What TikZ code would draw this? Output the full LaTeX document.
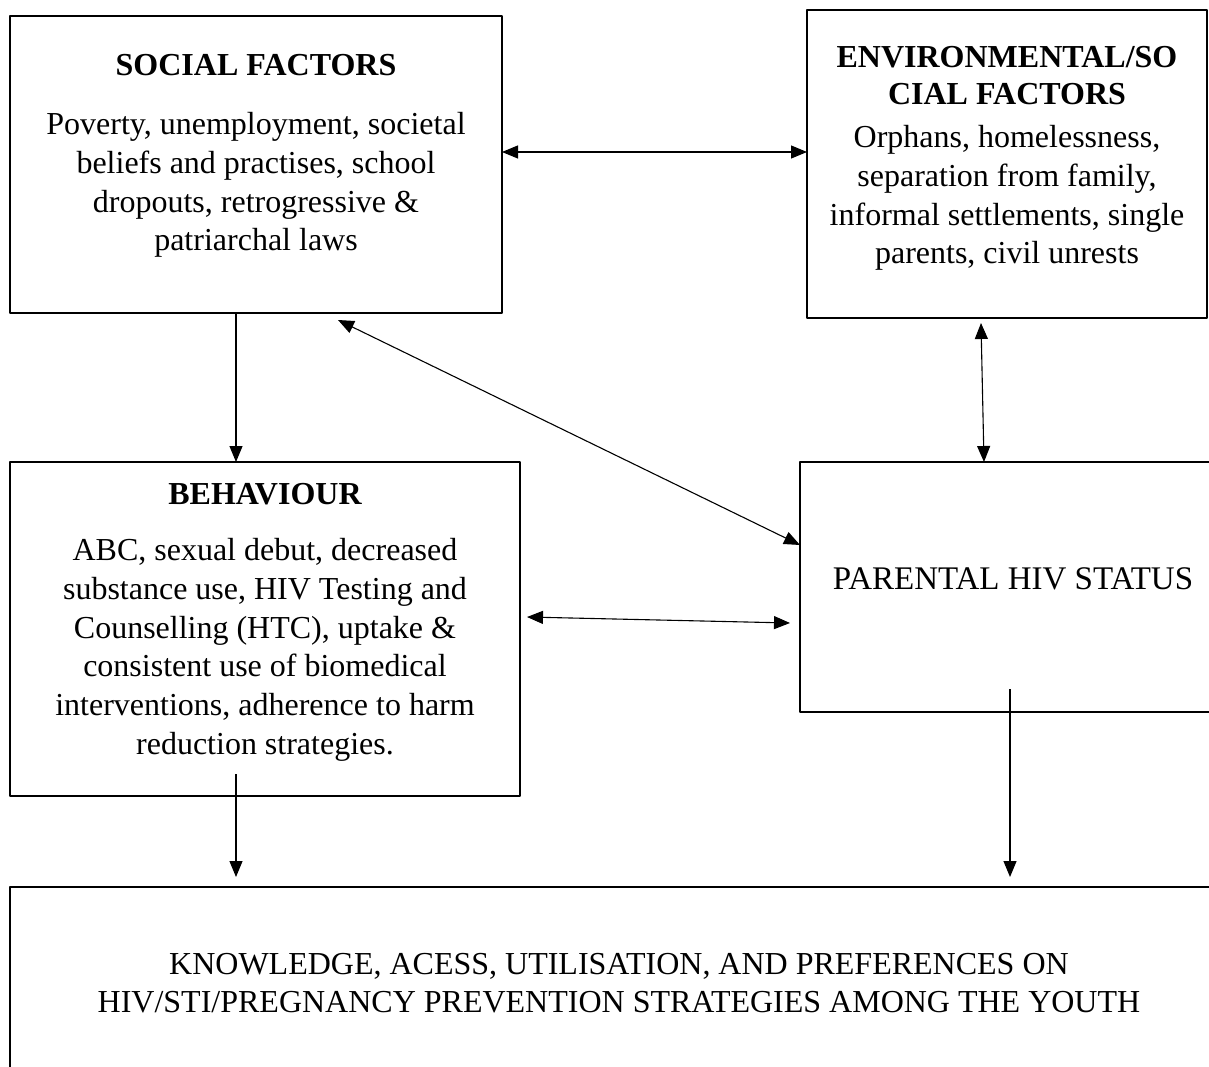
\documentclass[tikz,border=0pt]{standalone}
\usepackage{fontspec}
\setmainfont{Liberation Serif}
\usetikzlibrary{arrows.meta,positioning}
\tikzset{
  frame/.style={draw, line width=1.5pt, inner sep=0pt, outer sep=0pt, anchor=north west},
  txt/.style={inner sep=0pt, outer sep=0pt, align=center, anchor=north, font=\fontsize{32}{38.7}\selectfont},
  ttl/.style={txt, font=\fontsize{32}{37}\selectfont\bfseries}
}
\begin{document}
\begin{tikzpicture}[x=1pt, y=-1pt, line join=round, line width=1.1pt, >={Triangle[length=16pt,width=13pt]}]
	\useasboundingbox (0,0) rectangle (1209,1067);
	\clip (0,0) rectangle (1209,1067);
	% boxes
	\node[frame, minimum width=492pt, minimum height=297pt] (social) at (10,16) {};
	\node[frame, minimum width=400pt, minimum height=308pt] (env) at (807,10) {};
	\node[frame, minimum width=510pt, minimum height=334pt] (behav) at (10,462) {};
	\node[frame, minimum width=450pt, minimum height=250pt] (parental) at (800,462) {};
	\node[frame, minimum width=1240pt, minimum height=220pt] (outcome) at (10,887) {};
	% texts
	\node[ttl] (socialttl) at ([yshift=-38pt]social.north) {SOCIAL FACTORS};
	\node[txt, below=37pt of socialttl] (socialtxt) {Poverty, unemployment, societal\\beliefs and practises, school\\dropouts, retrogressive \&\\patriarchal laws};
	\node[ttl] (envttl) at ([yshift=-36pt]env.north) {ENVIRONMENTAL/SO\\CIAL FACTORS};
	\node[txt, below=21pt of envttl] (envtxt) {Orphans, homelessness,\\separation from family,\\informal settlements, single\\parents, civil unrests};
	\node[ttl] (behavttl) at ([yshift=-21pt]behav.north) {BEHAVIOUR};
	\node[txt, below=34pt of behavttl] (behavtxt) {ABC, sexual debut, decreased\\substance use, HIV Testing and\\Counselling (HTC), uptake \&\\consistent use of biomedical\\interventions, adherence to harm\\reduction strategies.};
	\node[txt, font=\fontsize{33}{38.7}\selectfont] (parentaltxt) at ([xshift=213pt,yshift=-106pt]parental.north west) {PARENTAL HIV STATUS};
	\node[txt] (outcometxt) at ([xshift=609pt,yshift=-66pt]outcome.north west) {KNOWLEDGE, ACESS, UTILISATION, AND PREFERENCES ON\\HIV/STI/PREGNANCY PREVENTION STRATEGIES AMONG THE YOUTH};
	% free ends
	\coordinate (diagend) at (338,320);
	\coordinate (envlow) at (981,323);
	\coordinate (behavright) at (527,617);
	\coordinate (parentalleft) at (790,623);
	\coordinate (behavlow) at (236,774);
	\coordinate (behavtip) at (236,877);
	\coordinate (parentallow) at (1010,689);
	\coordinate (parentaltip) at (1010,877);
	% connectors
	\draw[<->] (social.east |- 0,152) -- (env.west |- 0,152);
	\draw[->] (social.south -| 236,0) -- (behav.north -| 236,0);
	\draw[<->] (diagend) -- (parental.west |- 0,545);
	\draw[<->] (envlow) -- (parental.north -| 984,0);
	\draw[<->] (behavright) -- (parentalleft);
	\draw[->] (behavlow) -- (behavtip);
	\draw[->] (parentallow) -- (parentaltip);
\end{tikzpicture}
\end{document}
